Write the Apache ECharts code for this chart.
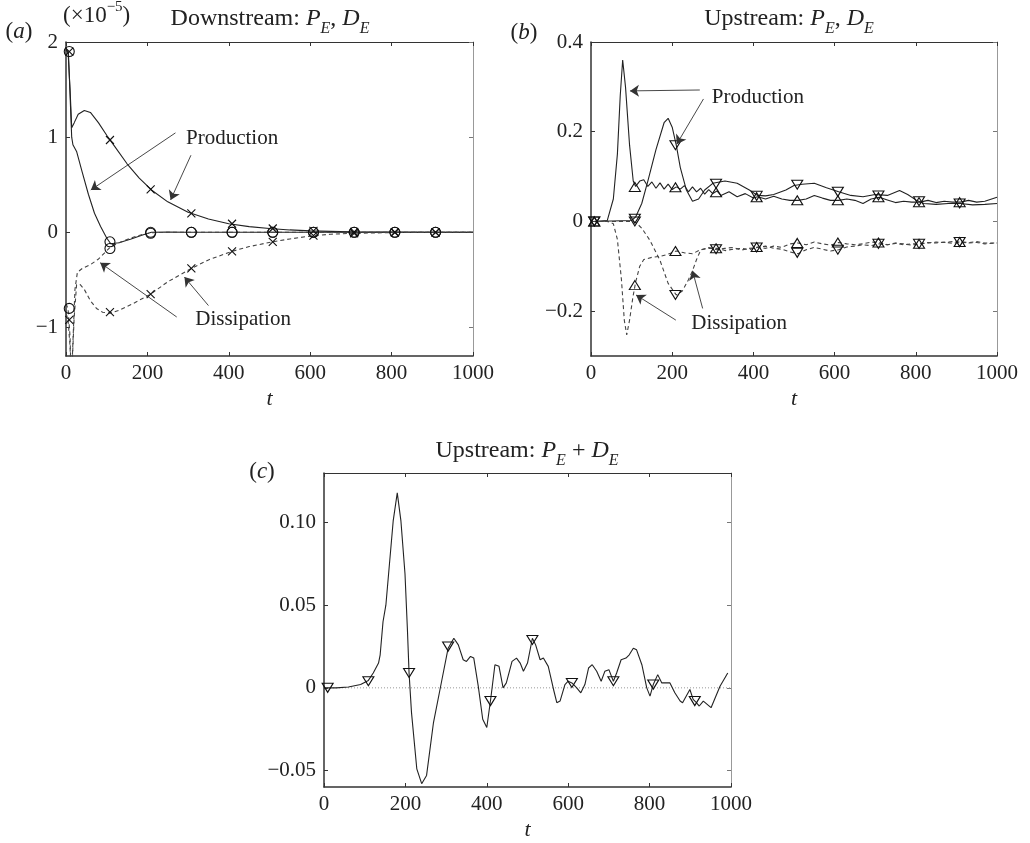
<!DOCTYPE html>
<html><head><meta charset="utf-8">
<script src="https://cdn.jsdelivr.net/npm/echarts@6/dist/echarts.min.js"></script>
<style>html,body{margin:0;padding:0;background:#fff}#c{width:1030px;height:843px}</style>
</head><body><div id="c"></div>
<script>
// ---------------- data ----------------
const xTicks = [0, 200, 400, 600, 800, 1000];
const yTicksA = [-1, 0, 1, 2];
const yTicksB = [-0.2, 0, 0.2, 0.4];
const yTicksC = [-0.05, 0, 0.05, 0.1];

// (a) Downstream (units 1e-5)
const prodCrossA = [[0,1.92],[5,1.9],[10,1.5],[14,1.1],[20,1.15],[30,1.24],[45,1.28],[60,1.26],[80,1.15],[100,1.02],[120,0.9],[150,0.72],[180,0.57],[210,0.445],[250,0.32],[300,0.21],[350,0.14],[400,0.09],[450,0.06],[500,0.04],[550,0.025],[600,0.015],[650,0.01],[700,0.005],[800,0.002],[900,0],[1000,0]];
const prodCircA = [[0,1.92],[6,1.88],[14,1.0],[17,0.92],[26,0.85],[40,0.63],[55,0.4],[70,0.2],[85,0.06],[100,-0.06],[110,-0.12],[130,-0.11],[160,-0.07],[190,-0.025],[210,0],[250,0.002],[300,0],[1000,0]];
const dissCrossA = [[0,-0.85],[5,-0.92],[10,-1.2],[13,-1.6],[16,-1.6],[20,-0.9],[26,-0.55],[35,-0.55],[45,-0.6],[60,-0.72],[75,-0.8],[90,-0.84],[108,-0.85],[130,-0.82],[160,-0.76],[208,-0.65],[250,-0.52],[308,-0.38],[350,-0.29],[408,-0.2],[450,-0.15],[508,-0.1],[550,-0.07],[608,-0.035],[650,-0.02],[708,-0.01],[800,-0.003],[900,0],[1000,0]];
const dissCircA = [[0,-0.75],[5,-0.8],[10,-1.1],[13,-1.6],[17,-1.6],[22,-0.6],[28,-0.42],[40,-0.38],[60,-0.34],[80,-0.28],[108,-0.16],[130,-0.11],[160,-0.06],[190,-0.02],[210,-0.005],[250,0],[1000,0]];
const mProdCrossA = [[8,1.9],[108,0.97],[208,0.45],[308,0.2],[408,0.09],[508,0.04],[608,0.015],[708,0.005],[808,0.002],[908,0]];
const mProdCircA = [[8,1.9],[108,-0.1],[208,0],[308,0],[408,0],[508,0],[608,0],[708,0],[808,0],[908,0]];
const mDissCrossA = [[8,-0.92],[108,-0.84],[208,-0.65],[308,-0.38],[408,-0.2],[508,-0.1],[608,-0.035],[708,-0.01],[808,-0.002],[908,0]];
const mDissCircA = [[8,-0.8],[108,-0.17],[208,-0.01],[308,0],[408,0],[508,0],[608,0],[708,0],[808,0],[908,0]];
const arrowsA = [[269,1.045,61,0.445],[307,0.81,257,0.34],[272,-0.89,84,-0.32],[350,-0.77,291,-0.47]];
const labelsA = [['Production',408,0.99],['Dissipation',435,-0.92]];

// (b) Upstream
const prodUpB = [[0,0],[10,0],[40,0.002],[55,0.05],[65,0.15],[72,0.28],[78,0.36],[85,0.3],[95,0.17],[104,0.09],[110,0.078],[120,0.09],[130,0.093],[140,0.078],[150,0.088],[160,0.074],[170,0.086],[180,0.072],[190,0.083],[200,0.071],[210,0.077],[220,0.072],[230,0.08],[240,0.066],[250,0.077],[260,0.066],[270,0.074],[280,0.061],[290,0.071],[300,0.062],[310,0.068],[320,0.058],[340,0.066],[360,0.055],[380,0.062],[400,0.052],[410,0.055],[430,0.05],[450,0.056],[470,0.05],[490,0.047],[510,0.047],[530,0.05],[550,0.058],[570,0.052],[590,0.047],[610,0.047],[630,0.05],[650,0.047],[670,0.04],[690,0.05],[710,0.054],[730,0.048],[750,0.042],[770,0.045],[790,0.043],[810,0.043],[830,0.047],[850,0.042],[870,0.045],[890,0.043],[910,0.043],[930,0.047],[950,0.043],[970,0.045],[1000,0.054]];
const prodDownB = [[0,0],[100,0.002],[110,0.01],[125,0.04],[140,0.09],[160,0.16],[180,0.22],[190,0.23],[200,0.21],[210,0.17],[220,0.12],[235,0.07],[250,0.045],[265,0.05],[280,0.07],[300,0.085],[330,0.09],[360,0.085],[390,0.07],[410,0.058],[430,0.057],[450,0.06],[480,0.07],[500,0.08],[520,0.083],[550,0.085],[580,0.075],[610,0.066],[640,0.058],[670,0.055],[700,0.06],[730,0.058],[760,0.069],[780,0.06],[800,0.048],[820,0.04],[850,0.038],[880,0.04],[910,0.04],[940,0.037],[970,0.038],[1000,0.04]];
const dissUpB = [[0,0],[40,0],[55,-0.005],[65,-0.04],[75,-0.13],[82,-0.22],[88,-0.253],[95,-0.22],[103,-0.17],[110,-0.135],[120,-0.1],[130,-0.085],[150,-0.08],[170,-0.078],[190,-0.073],[210,-0.066],[230,-0.07],[250,-0.072],[270,-0.063],[290,-0.06],[310,-0.06],[330,-0.065],[350,-0.062],[370,-0.06],[390,-0.063],[410,-0.057],[430,-0.06],[450,-0.055],[470,-0.058],[490,-0.05],[510,-0.048],[530,-0.052],[550,-0.046],[570,-0.05],[590,-0.053],[610,-0.047],[630,-0.05],[650,-0.052],[670,-0.05],[690,-0.046],[710,-0.047],[730,-0.052],[750,-0.048],[770,-0.05],[790,-0.053],[810,-0.05],[830,-0.048],[850,-0.046],[870,-0.047],[890,-0.045],[910,-0.046],[930,-0.047],[950,-0.045],[970,-0.048],[1000,-0.048]];
const dissDownB = [[0,0],[100,0],[110,-0.002],[125,-0.015],[145,-0.042],[170,-0.087],[190,-0.138],[210,-0.164],[225,-0.155],[240,-0.13],[250,-0.11],[260,-0.085],[270,-0.064],[290,-0.058],[310,-0.063],[330,-0.06],[350,-0.058],[370,-0.064],[390,-0.06],[410,-0.058],[430,-0.055],[450,-0.06],[470,-0.062],[490,-0.068],[510,-0.072],[530,-0.063],[550,-0.058],[570,-0.062],[590,-0.066],[610,-0.063],[630,-0.057],[650,-0.055],[670,-0.052],[690,-0.054],[710,-0.05],[730,-0.052],[750,-0.049],[770,-0.052],[790,-0.05],[810,-0.05],[830,-0.047],[850,-0.048],[870,-0.046],[890,-0.049],[910,-0.046],[930,-0.048],[950,-0.047],[970,-0.05],[1000,-0.048]];
const mProdUpB = [[8,0],[108,0.077],[208,0.076],[308,0.065],[408,0.054],[508,0.047],[608,0.047],[708,0.054],[808,0.043],[908,0.043]];
const mProdDownB = [[8,0],[108,0.006],[208,0.17],[308,0.084],[408,0.057],[508,0.082],[608,0.066],[708,0.058],[808,0.045],[908,0.04]];
const mDissUpB = [[8,0],[108,-0.142],[208,-0.066],[308,-0.06],[408,-0.057],[508,-0.048],[608,-0.047],[708,-0.047],[808,-0.05],[908,-0.046]];
const mDissDownB = [[8,0],[108,0],[208,-0.164],[308,-0.062],[408,-0.058],[508,-0.07],[608,-0.063],[708,-0.05],[808,-0.05],[908,-0.046]];
const arrowsB = [[268,0.293,96,0.291],[277,0.273,211,0.172],[209,-0.22,111,-0.164],[275,-0.194,250,-0.11]];
const labelsB = [['Production',411,0.276],['Dissipation',365,-0.227]];

// (c) Upstream sum
const sumC = [[0,0],[30,0],[60,0.0005],[90,0.002],[109,0.0045],[121,0.009],[134,0.015],[138,0.02],[145,0.04],[152,0.05],[170,0.101],[180,0.118],[189,0.101],[199,0.069],[205,0.035],[209,0.009],[215,-0.015],[228,-0.049],[240,-0.058],[252,-0.053],[269,-0.021],[289,0.004],[305,0.024],[319,0.03],[330,0.026],[342,0.017],[350,0.016],[360,0.019],[368,0.018],[379,0.001],[390,-0.019],[400,-0.024],[410,-0.006],[420,0.014],[430,0.013],[440,0],[448,0.003],[462,0.016],[473,0.018],[482,0.015],[490,0.01],[500,0.015],[512,0.03],[520,0.026],[531,0.017],[539,0.018],[551,0.013],[564,-0.001],[572,-0.009],[580,-0.008],[592,0.002],[600,0.004],[609,0.003],[621,0],[631,-0.003],[641,0.002],[650,0.012],[659,0.014],[670,0.01],[681,0.004],[690,0.01],[700,0.011],[711,0.004],[719,0.009],[730,0.017],[742,0.018],[750,0.02],[760,0.024],[768,0.023],[781,0.014],[793,0],[801,-0.005],[809,0.002],[820,0.008],[830,0.003],[850,0.003],[862,-0.003],[875,-0.008],[881,-0.009],[899,-0.001],[907,-0.007],[915,-0.009],[922,-0.011],[932,-0.008],[951,-0.012],[973,0.001],[992,0.009]];
const mSumC = [[9,0],[109,0.004],[209,0.009],[305,0.025],[409,-0.008],[512,0.029],[609,0.003],[711,0.004],[809,0.002],[911,-0.008]];
const zeroC = [[0,0],[1000,0]];

// ---------------- styling ----------------
const FONT = 'Liberation Serif';
const INK = '#222';
const SYM = {
  cross: 'path://M0,0L10,10M10,0L0,10',
  circle: 'circle',
  up: 'path://M5,0L10,9L0,9Z',
  down: 'path://M0,0L10,0L5,9Z'
};
const grids = [
  {left: 66, top: 42, width: 407, height: 314},
  {left: 591, top: 42, width: 406, height: 314},
  {left: 324, top: 473, width: 407, height: 314}
];
const yRange = [[-1.3, 2], [-0.3, 0.4], [-0.06, 0.13]];
const yTickSets = [yTicksA, yTicksB, yTicksC];
const yFmt = [
  v => v < 0 ? '\u2212' + (-v) : String(v),
  v => v === 0 ? '0' : (v < 0 ? '\u2212' + (-v) : String(v)),
  v => Math.abs(v) < 1e-9 ? '0' : (v < 0 ? '\u2212' + (-v).toFixed(2) : v.toFixed(2))
];

const xAxes = [], yAxes = [];
grids.forEach((g, i) => {
  xAxes.push({type: 'value', gridIndex: i, min: 0, max: 1000, interval: 200, position: 'bottom',
    axisLine: {show: true, onZero: false, lineStyle: {color: '#333', width: 1.5}},
    axisTick: {show: true, inside: true, length: 4, customValues: xTicks, lineStyle: {color: '#333'}},
    axisLabel: {show: true, margin: 7, customValues: xTicks, formatter: v => String(v), fontFamily: FONT, fontSize: 21, color: INK},
    splitLine: {show: false},
    name: 't', nameLocation: 'middle', nameGap: 32,
    nameTextStyle: {fontFamily: FONT, fontSize: 22, fontStyle: 'italic', color: INK}});
  xAxes.push({type: 'value', gridIndex: i, min: 0, max: 1000, interval: 200, position: 'top',
    axisLine: {show: true, onZero: false, lineStyle: {color: '#333', width: 1.2}},
    axisTick: {show: true, inside: true, length: 4, customValues: xTicks, lineStyle: {color: '#333'}},
    axisLabel: {show: false}, splitLine: {show: false}});
  yAxes.push({type: 'value', gridIndex: i, min: yRange[i][0], max: yRange[i][1], position: 'left',
    axisLine: {show: true, onZero: false, lineStyle: {color: '#333', width: 1.5}},
    axisTick: {show: true, inside: true, length: 4, customValues: yTickSets[i], lineStyle: {color: '#333'}},
    axisLabel: {show: true, margin: 8, customValues: yTickSets[i], formatter: yFmt[i], fontFamily: FONT, fontSize: 21, color: INK},
    splitLine: {show: false}});
  yAxes.push({type: 'value', gridIndex: i, min: yRange[i][0], max: yRange[i][1], position: 'right',
    axisLine: {show: true, onZero: false, lineStyle: {color: '#999', width: 1}},
    axisTick: {show: true, inside: true, length: 4, customValues: yTickSets[i], lineStyle: {color: '#777'}},
    axisLabel: {show: false}, splitLine: {show: false}});
});

function lineS(data, gi, dashed, extra) {
  return Object.assign({type: 'line', xAxisIndex: 2 * gi, yAxisIndex: 2 * gi, data: data,
    showSymbol: false, symbol: 'none', smooth: false, animation: false, clip: true, z: 2,
    lineStyle: {color: dashed ? '#444' : INK, width: 1.1, type: dashed ? [4, 3] : 'solid'}}, extra || {});
}
function markS(data, gi, sym, size) {
  return {type: 'scatter', xAxisIndex: 2 * gi, yAxisIndex: 2 * gi, data: data, symbol: SYM[sym],
    symbolSize: size, animation: false, z: 3,
    itemStyle: {color: 'rgba(0,0,0,0)', borderColor: '#111', borderWidth: 1.1, opacity: 1}};
}
function annot(arrows, labels) {
  return {
    markLine: {silent: true, symbol: ['none', 'arrow'], symbolSize: 9, animation: false,
      lineStyle: {color: '#333', width: 0.9, type: 'solid'}, label: {show: false},
      data: arrows.map(a => [{coord: [a[0], a[1]]}, {coord: [a[2], a[3]]}])},
    markPoint: {silent: true, symbol: 'circle', symbolSize: 1, animation: false,
      itemStyle: {color: 'rgba(0,0,0,0)'},
      label: {show: true, position: 'inside', fontFamily: FONT, fontSize: 21, color: INK, formatter: p => p.name},
      data: labels.map(l => ({name: l[0], coord: [l[1], l[2]]}))}
  };
}

const series = [
  lineS(prodCrossA, 0, false, annot(arrowsA, labelsA)),
  lineS(prodCircA, 0, false),
  lineS(dissCrossA, 0, true),
  lineS(dissCircA, 0, true),
  markS(mProdCrossA, 0, 'cross', 8),
  markS(mProdCircA, 0, 'circle', 10),
  markS(mDissCrossA, 0, 'cross', 8),
  markS(mDissCircA, 0, 'circle', 10),

  lineS(prodUpB, 1, false, annot(arrowsB, labelsB)),
  lineS(prodDownB, 1, false),
  lineS(dissUpB, 1, true),
  lineS(dissDownB, 1, true),
  markS(mProdUpB, 1, 'up', [11, 9]),
  markS(mProdDownB, 1, 'down', [11, 9]),
  markS(mDissUpB, 1, 'up', [11, 9]),
  markS(mDissDownB, 1, 'down', [11, 9]),

  lineS(zeroC, 2, false, {lineStyle: {color: '#999', width: 1, type: [1, 2]}, z: 1}),
  lineS(sumC, 2, false),
  markS(mSumC, 2, 'down', [11, 9])
];

const rich = {
  n: {fontFamily: FONT, fontSize: 24, color: INK, lineHeight: 36},
  i: {fontFamily: FONT, fontSize: 24, fontStyle: 'italic', color: INK, lineHeight: 36},
  s: {fontFamily: FONT, fontSize: 16, fontStyle: 'italic', color: INK, lineHeight: 16, verticalAlign: 'bottom'},
  sp: {fontFamily: FONT, fontSize: 15, color: INK, lineHeight: 15, verticalAlign: 'top'},
  p: {fontFamily: FONT, fontSize: 23, color: INK, lineHeight: 32},
  pi: {fontFamily: FONT, fontSize: 23, fontStyle: 'italic', color: INK, lineHeight: 32}
};
function txt(x, y, text, align) {
  return {type: 'text', x: x, y: y, z: 10, silent: true,
    style: {text: text, rich: rich, align: align || 'center', verticalAlign: 'middle', fill: INK, font: '24px ' + FONT}};
}
const graphics = [
  txt(270, 19, '{n|Downstream: }{i|P}{s|E}{n|, }{i|D}{s|E}'),
  txt(789, 19, '{n|Upstream: }{i|P}{s|E}{n|, }{i|D}{s|E}'),
  txt(527, 451, '{n|Upstream: }{i|P}{s|E}{n| + }{i|D}{s|E}'),
  txt(19, 32, '{p|(}{pi|a}{p|)}'),
  txt(524, 33, '{p|(}{pi|b}{p|)}'),
  txt(262, 472, '{p|(}{pi|c}{p|)}'),
  txt(63, 16, '{p|(\u00d710}{sp|\u22125}{p|)}', 'left')
];

const chart = echarts.init(document.getElementById('c'), null, {renderer: 'canvas'});
chart.setOption({
  animation: false,
  backgroundColor: '#fff',
  grid: grids.map(g => Object.assign({containLabel: false}, g)),
  xAxis: xAxes,
  yAxis: yAxes,
  series: series,
  graphic: graphics
});
</script></body></html>
